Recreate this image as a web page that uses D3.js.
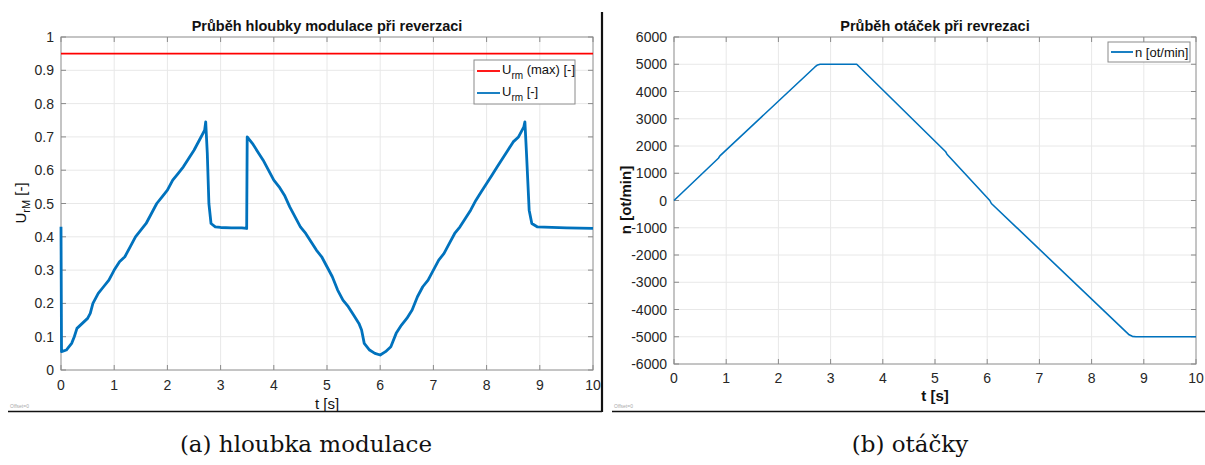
<!DOCTYPE html>
<html>
<head>
<meta charset="utf-8">
<script src="https://cdn.jsdelivr.net/npm/d3@7"></script>
<style>
  body { margin: 0; background: #fff; }
  svg { display: block; font-family: "Liberation Sans", Arial, sans-serif; }
  .grid line { stroke: #e8e8e8; stroke-width: 1; }
  .tick-lbl { font-size: 14px; fill: #262626; }
</style>
</head>
<body>
<svg id="chart" width="1205" height="465"></svg>
<script>
// left panel: modulation depth
const tMod = [0, 0.01, 0.1, 0.2, 0.25, 0.3, 0.4, 0.5, 0.55, 0.6, 0.7, 0.8, 0.9, 1.0, 1.1, 1.2, 1.3, 1.4, 1.5,
  1.6, 1.7, 1.8, 1.9, 2.0, 2.1, 2.2, 2.3, 2.4, 2.5, 2.6, 2.7, 2.72, 2.75, 2.78, 2.82, 2.9, 3.0, 3.2, 3.4, 3.49,
  3.5, 3.6, 3.7, 3.8, 3.9, 4.0, 4.1, 4.2, 4.3, 4.4, 4.5, 4.6, 4.7, 4.8, 4.9, 5.0, 5.1, 5.2, 5.3, 5.4, 5.5,
  5.6, 5.65, 5.7, 5.8, 5.9, 6.0, 6.1, 6.2, 6.3, 6.4, 6.5, 6.6, 6.7, 6.8, 6.9, 7.0, 7.1, 7.2, 7.3, 7.4, 7.5,
  7.6, 7.7, 7.8, 7.9, 8.0, 8.1, 8.2, 8.3, 8.4, 8.5, 8.6, 8.7, 8.72, 8.75, 8.8, 8.85, 8.95, 9.5, 10]
const uMod = [0.43, 0.055, 0.06, 0.08, 0.10, 0.125, 0.14, 0.155, 0.17, 0.20, 0.23, 0.25, 0.27, 0.30, 0.325, 0.34, 0.37, 0.40, 0.42,
  0.44, 0.47, 0.50, 0.52, 0.54, 0.57, 0.59, 0.61, 0.635, 0.66, 0.69, 0.72, 0.745, 0.65, 0.50, 0.44, 0.43, 0.428, 0.427, 0.427, 0.425,
  0.70, 0.68, 0.655, 0.63, 0.60, 0.57, 0.55, 0.525, 0.49, 0.46, 0.43, 0.41, 0.385, 0.36, 0.34, 0.31, 0.28, 0.24, 0.21, 0.19, 0.165,
  0.14, 0.12, 0.08, 0.06, 0.05, 0.045, 0.055, 0.07, 0.11, 0.135, 0.155, 0.18, 0.22, 0.25, 0.27, 0.30, 0.33, 0.35, 0.38, 0.41, 0.43,
  0.455, 0.48, 0.51, 0.535, 0.56, 0.585, 0.61, 0.635, 0.66, 0.685, 0.70, 0.73, 0.745, 0.65, 0.48, 0.44, 0.43, 0.427, 0.425]
const uMax = 0.95

// right panel: speed
const tSpd = [0, 0.85, 0.88, 2.7, 2.75, 2.8, 3.5, 5.2, 5.23, 6.05, 6.08, 8.72, 8.78, 8.85, 10]
const nSpd = [0, 1550, 1640, 4900, 4975, 5000, 5000, 1800, 1700, 0, -110, -4930, -4985, -5000, -5000]

const xTicks = d3.range(0, 11)
const yTicksL = d3.range(0, 11).map(d => d / 10)
const yTicksR = d3.range(-6000, 6001, 1000)

const svg = d3.select("#chart")
const blue = "#0072BD", red = "#FF0000"

function panel(o) {
  const x = d3.scaleLinear().domain([0, 10]).range([o.x0, o.x1])
  const y = d3.scaleLinear().domain(o.yDom).range([o.y1, o.y0])
  const g = svg.append("g")

  const grid = g.append("g").attr("class", "grid")
  grid.selectAll(".gx").data(xTicks.slice(1, -1)).enter().append("line")
    .attr("x1", d => x(d)).attr("x2", d => x(d)).attr("y1", o.y0).attr("y2", o.y1)
  grid.selectAll(".gy").data(o.yTicks.slice(1, -1)).enter().append("line")
    .attr("y1", d => y(d)).attr("y2", d => y(d)).attr("x1", o.x0).attr("x2", o.x1)

  // inner ticks on all sides
  const tk = g.append("g").attr("stroke", "#8a8a8a")
  xTicks.forEach(d => {
    tk.append("line").attr("x1", x(d)).attr("x2", x(d)).attr("y1", o.y1).attr("y2", o.y1 - 5)
    tk.append("line").attr("x1", x(d)).attr("x2", x(d)).attr("y1", o.y0).attr("y2", o.y0 + 5)
  })
  o.yTicks.forEach(d => {
    tk.append("line").attr("y1", y(d)).attr("y2", y(d)).attr("x1", o.x0).attr("x2", o.x0 + 5)
    tk.append("line").attr("y1", y(d)).attr("y2", y(d)).attr("x1", o.x1).attr("x2", o.x1 - 5)
  })

  g.selectAll(".xl").data(xTicks).enter().append("text").attr("class", "tick-lbl")
    .attr("x", d => x(d)).attr("y", o.y1 + o.xLblDy).attr("text-anchor", "middle").text(d => d)
  g.selectAll(".yl").data(o.yTicks).enter().append("text").attr("class", "tick-lbl")
    .attr("x", o.x0 - 7).attr("y", d => y(d) + 5).attr("text-anchor", "end").text(o.fmt)

  g.append("rect").attr("x", o.x0).attr("y", o.y0).attr("width", o.x1 - o.x0).attr("height", o.y1 - o.y0)
    .attr("fill", "none").attr("stroke", "#8a8a8a").attr("stroke-width", 1)

  g.append("text").attr("x", (o.x0 + o.x1) / 2).attr("y", 31).attr("text-anchor", "middle")
    .attr("font-weight", "bold").attr("font-size", 14.5).attr("fill", "#111").text(o.title)

  return { x, y, g }
}

// ---------- left ----------
const L = panel({ x0: 61, x1: 593, y0: 37, y1: 370, yDom: [0, 1], yTicks: yTicksL, xLblDy: 20,
  fmt: d => d === 0 || d === 1 ? d : d.toFixed(1), title: "Průběh hloubky modulace při reverzaci" })

L.g.append("line").attr("x1", L.x(0)).attr("x2", L.x(10)).attr("y1", L.y(uMax)).attr("y2", L.y(uMax))
  .attr("stroke", red).attr("stroke-width", 1.6)

const lineL = d3.line().x((d, i) => L.x(tMod[i])).y(d => L.y(d))
L.g.append("path").datum(uMod).attr("d", lineL).attr("fill", "none").attr("stroke", blue)
  .attr("stroke-width", 2.8).attr("stroke-linejoin", "round")

L.g.append("text").attr("x", (61 + 593) / 2).attr("y", 409).attr("text-anchor", "middle")
  .attr("font-size", 15).attr("fill", "#111").text("t [s]")

const yl = L.g.append("text").attr("transform", "translate(26,203) rotate(-90)").attr("text-anchor", "middle")
  .attr("font-size", 15).attr("fill", "#111")
yl.append("tspan").text("U")
yl.append("tspan").attr("dy", 4).attr("font-size", 11).text("rM")
yl.append("tspan").attr("dy", -4).text(" [-]")

const legL = L.g.append("g")
legL.append("rect").attr("x", 474).attr("y", 60).attr("width", 101).attr("height", 44)
  .attr("fill", "#fff").attr("stroke", "#8a8a8a")
const legItems = [{ c: red, extra: " (max) [-]", yy: 71 }, { c: blue, extra: " [-]", yy: 93 }]
legItems.forEach(it => {
  legL.append("line").attr("x1", 477).attr("x2", 500).attr("y1", it.yy).attr("y2", it.yy)
    .attr("stroke", it.c).attr("stroke-width", 1.8)
  const t = legL.append("text").attr("x", 502).attr("y", it.yy + 3).attr("font-size", 13).attr("fill", "#111")
  t.append("tspan").text("U")
  t.append("tspan").attr("dy", 5).attr("font-size", 10).text("rm")
  t.append("tspan").attr("dy", -5).text(it.extra)
})

// ---------- right ----------
const R = panel({ x0: 674, x1: 1196, y0: 37, y1: 364, yDom: [-6000, 6000], yTicks: yTicksR, xLblDy: 19,
  fmt: d => d, title: "Průběh otáček při revrezaci" })

const lineR = d3.line().x((d, i) => R.x(tSpd[i])).y(d => R.y(d))
R.g.append("path").datum(nSpd).attr("d", lineR).attr("fill", "none").attr("stroke", blue)
  .attr("stroke-width", 1.6).attr("stroke-linejoin", "round")

R.g.append("text").attr("x", (674 + 1196) / 2).attr("y", 401).attr("text-anchor", "middle")
  .attr("font-size", 15).attr("font-weight", "bold").attr("fill", "#111").text("t [s]")
R.g.append("text").attr("transform", "translate(631,200) rotate(-90)").attr("text-anchor", "middle")
  .attr("font-size", 15).attr("font-weight", "bold").attr("fill", "#111").text("n [ot/min]")

const legR = R.g.append("g")
legR.append("rect").attr("x", 1108).attr("y", 42).attr("width", 82).attr("height", 20)
  .attr("fill", "#fff").attr("stroke", "#8a8a8a")
legR.append("line").attr("x1", 1111).attr("x2", 1133).attr("y1", 52).attr("y2", 52)
  .attr("stroke", blue).attr("stroke-width", 1.8)
legR.append("text").attr("x", 1135).attr("y", 57).attr("font-size", 13).attr("fill", "#111").text("n [ot/min]")

// ---------- frame lines, offsets, captions ----------
svg.append("line").attr("x1", 602).attr("x2", 602).attr("y1", 12).attr("y2", 412)
  .attr("stroke", "#111").attr("stroke-width", 2.2)
svg.append("line").attr("x1", 8).attr("x2", 602).attr("y1", 411.5).attr("y2", 411.5)
  .attr("stroke", "#111").attr("stroke-width", 1.5)
svg.append("line").attr("x1", 612).attr("x2", 1205).attr("y1", 411.5).attr("y2", 411.5)
  .attr("stroke", "#111").attr("stroke-width", 1.5)

svg.append("text").attr("x", 10).attr("y", 408).attr("font-size", 5).attr("fill", "#aaa").text("Offset=0")
svg.append("text").attr("x", 614).attr("y", 408).attr("font-size", 5).attr("fill", "#aaa").text("Offset=0")

const cap = svg.append("g").attr("font-family", "'DejaVu Serif', 'Liberation Serif', serif")
  .attr("font-size", 23).attr("fill", "#111").attr("text-anchor", "middle")
cap.append("text").attr("x", 306).attr("y", 452).text("(a) hloubka modulace")
cap.append("text").attr("x", 910).attr("y", 452).text("(b) otáčky")
</script>
</body>
</html>
